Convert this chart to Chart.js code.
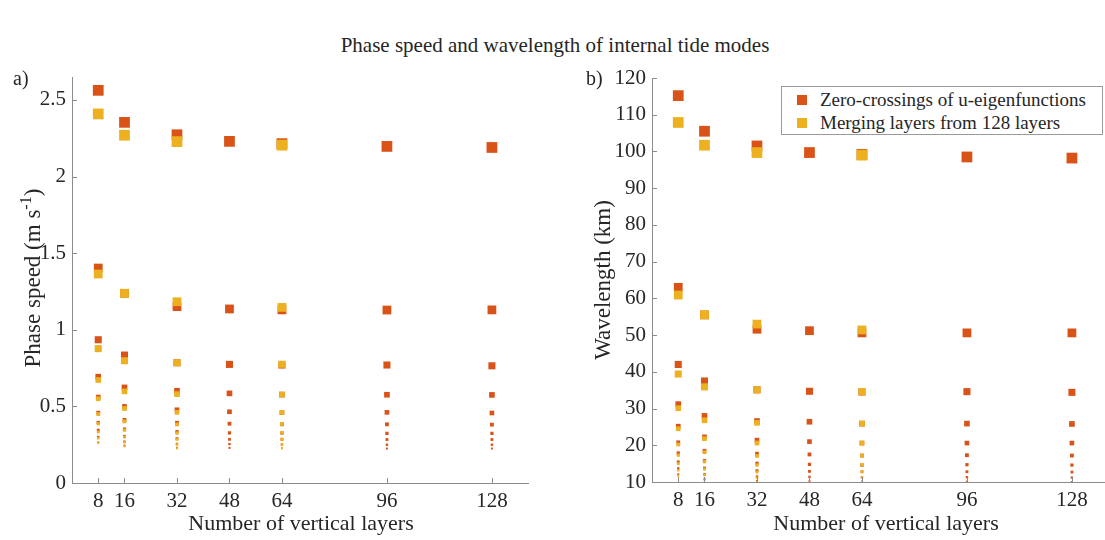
<!DOCTYPE html>
<html>
<head>
<meta charset="utf-8">
<title>Phase speed and wavelength of internal tide modes</title>
<script src="https://cdn.jsdelivr.net/npm/chart.js@4.4.1/dist/chart.umd.min.js"></script>
<style>
  html, body { margin: 0; padding: 0; background: #fff; }
  #page {
    position: relative; width: 1105px; height: 540px; overflow: hidden;
    font-family: "Times New Roman", "Liberation Serif", Times, "DejaVu Serif", serif; color: #262626;
  }
  .panel { position: absolute; top: 0; }
  .txt { position: absolute; white-space: nowrap; line-height: 1; }
  .center { transform: translate(-50%, -50%); }
  .vert { transform: translate(-50%, -50%) rotate(-90deg); }
  .vert sup { font-size: 0.7em; vertical-align: 0.55em; line-height: 0; }
  #legend {
    position: absolute; left: 781px; top: 86px; width: 322px; height: 49px;
    border: 1px solid #9a9a9a; background: #fff; box-sizing: border-box;
    font-size: 19px;
  }
  #legend .row { position: absolute; left: 0; height: 20px; line-height: 20px; }
  #legend .sw { position: absolute; left: 15px; top: 5px; width: 10px; height: 10px; }
  #legend .lab { position: absolute; left: 38px; top: 0; white-space: nowrap; }
</style>
</head>
<body>
<div id="page">
  <div class="txt center" style="left:555px; top:45px; font-size:21px;">Phase speed and wavelength of internal tide modes</div>

  <canvas id="speedChart" class="panel" style="left:0px;" width="560" height="540"></canvas>
  <canvas id="waveChart" class="panel" style="left:580px;" width="560" height="540"></canvas>

  <div class="txt" style="left:13px; top:68px; font-size:20px;">a)</div>
  <div class="txt" style="left:586px; top:68px; font-size:20px;">b)</div>

  <div class="txt vert" style="left:32px; top:278px; font-size:23px;">Phase speed (m s<sup>-1</sup>)</div>
  <div class="txt vert" style="left:602px; top:280px; font-size:23px;">Wavelength (km)</div>

  <div class="txt center" style="left:301px; top:523px; font-size:22px;">Number of vertical layers</div>
  <div class="txt center" style="left:886px; top:523px; font-size:22px;">Number of vertical layers</div>

  <div id="legend">
    <div class="row" style="top:3px;"><span class="sw" style="background:#D95319;"></span><span class="lab">Zero-crossings of u-eigenfunctions</span></div>
    <div class="row" style="top:26px;"><span class="sw" style="background:#EDB120;"></span><span class="lab">Merging layers from 128 layers</span></div>
  </div>
</div>

<script>
// layer counts on the x axis
const layers = [8, 16, 32, 48, 64, 96, 128];
const mergedLayers = [8, 16, 32, 64];

const xTicks = [8, 16, 32, 48, 64, 96, 128];
const speedTicks = [0, 0.5, 1, 1.5, 2, 2.5];
const waveTicks = [10, 20, 30, 40, 50, 60, 70, 80, 90, 100, 110, 120];

// phase speed (m/s), one row per layer count, modes 1..10
const speedZero = [
    [2.563, 1.403, 0.935, 0.694, 0.561, 0.459, 0.395, 0.345, 0.30, 0.265],
    [2.354, 1.238, 0.835, 0.624, 0.500, 0.412, 0.352, 0.305, 0.270, 0.245],
    [2.273, 1.151, 0.785, 0.602, 0.478, 0.393, 0.335, 0.290, 0.255, 0.230],
    [2.230, 1.136, 0.774, 0.585, 0.465, 0.387, 0.327, 0.285, 0.254, 0.229],
    [2.215, 1.130, 0.770, 0.577, 0.459, 0.383, 0.326, 0.285, 0.252, 0.227],
    [2.197, 1.129, 0.770, 0.576, 0.461, 0.383, 0.324, 0.284, 0.250, 0.225],
    [2.190, 1.130, 0.765, 0.575, 0.457, 0.381, 0.324, 0.284, 0.250, 0.225]
];
const speedMerged = [
    [2.409, 1.364, 0.877, 0.672, 0.550, 0.450, 0.387, 0.333, 0.292, 0.262],
    [2.270, 1.238, 0.798, 0.598, 0.486, 0.402, 0.345, 0.300, 0.266, 0.240],
    [2.228, 1.183, 0.785, 0.580, 0.461, 0.382, 0.326, 0.285, 0.251, 0.226],
    [2.205, 1.146, 0.775, 0.578, 0.460, 0.385, 0.328, 0.287, 0.253, 0.228]
];

// wavelength (km), same layout
const waveZero = [
    [115.2, 63.0, 42.0, 31.2, 25.2, 20.8, 17.9, 15.5, 13.7, 12.1],
    [105.5, 55.5, 37.5, 28.0, 22.3, 18.5, 15.8, 13.8, 12.1, 10.8],
    [101.5, 51.6, 35.1, 26.6, 21.4, 17.7, 15.1, 13.1, 11.5, 10.3],
    [99.7, 51.2, 34.7, 26.4, 21.0, 17.5, 14.8, 12.9, 11.4, 10.2],
    [99.2, 50.6, 34.5, 25.9, 20.6, 17.2, 14.6, 12.8, 11.3, 10.1],
    [98.5, 50.6, 34.6, 25.9, 20.6, 17.3, 14.7, 12.8, 11.3, 10.1],
    [98.2, 50.6, 34.4, 25.8, 20.6, 17.2, 14.6, 12.7, 11.2, 10.0]
];
const waveMerged = [
    [107.9, 60.9, 39.4, 30.1, 24.5, 20.2, 17.3, 15.0, 13.2, 11.7],
    [101.7, 55.5, 35.9, 26.8, 21.8, 18.1, 15.5, 13.5, 11.9, 10.6],
    [99.7, 53.0, 35.1, 26.1, 20.6, 17.1, 14.6, 12.7, 11.2, 10.0],
    [99.0, 51.4, 34.6, 25.9, 20.6, 17.2, 14.7, 12.8, 11.3, 10.1]
];

const RED = '#D95319';
const YELLOW = '#EDB120';
const AXIS = '#8c8c8c';
const TEXT = '#262626';
const SERIF = '"Times New Roman", "Liberation Serif", Times, "DejaVu Serif", serif';

// marker radius by mode number (rect side = radius * sqrt(2))
const modeRadius = [7.6, 6.2, 5.0, 4.0, 3.3, 2.7, 2.3, 2.0, 1.7, 1.4];

function toPoints(xs, rows) {
    const pts = [];
    xs.forEach((x, i) => {
        rows[i].forEach((y, m) => pts.push({ x, y, mode: m }));
    });
    return pts;
}

// matlab-style ticks pointing into the plot area
const inwardTicks = {
    id: 'inwardTicks',
    afterDatasetsDraw(chart) {
        const { ctx, chartArea, scales } = chart;
        const len = 5;
        ctx.save();
        ctx.strokeStyle = AXIS;
        ctx.lineWidth = 1;
        ctx.beginPath();
        scales.x.ticks.forEach(t => {
            const px = Math.round(scales.x.getPixelForValue(t.value)) + 0.5;
            ctx.moveTo(px, chartArea.bottom);
            ctx.lineTo(px, chartArea.bottom - len);
        });
        scales.y.ticks.forEach(t => {
            const py = Math.round(scales.y.getPixelForValue(t.value)) + 0.5;
            ctx.moveTo(chartArea.left, py);
            ctx.lineTo(chartArea.left + len, py);
        });
        ctx.stroke();
        ctx.restore();
    }
};

function makeChart(id, zeroRows, mergedRows, yMin, yMax, yTicks, topPad, xHeight) {
    const tickFont = { family: SERIF, size: 21 };
    return new Chart(document.getElementById(id), {
        type: 'scatter',
        data: {
            datasets: [
                {
                    label: 'Zero-crossings of u-eigenfunctions',
                    data: toPoints(layers, zeroRows),
                    backgroundColor: RED,
                    borderColor: RED,
                    borderWidth: 0,
                    pointStyle: 'rect',
                    pointRadius: ctx => modeRadius[ctx.raw.mode],
                    clip: 0,
                    order: 1
                },
                {
                    label: 'Merging layers from 128 layers',
                    data: toPoints(mergedLayers, mergedRows),
                    backgroundColor: YELLOW,
                    borderColor: YELLOW,
                    borderWidth: 0,
                    pointStyle: 'rect',
                    pointRadius: ctx => modeRadius[ctx.raw.mode],
                    clip: 0,
                    order: 0
                }
            ]
        },
        options: {
            responsive: false,
            animation: false,
            events: [],
            layout: { padding: { top: topPad, right: 32, left: 0, bottom: 0 } },
            plugins: { legend: { display: false }, tooltip: { enabled: false } },
            scales: {
                x: {
                    type: 'linear',
                    min: 0,
                    max: 139,
                    afterBuildTicks: s => { s.ticks = xTicks.map(v => ({ value: v })); },
                    afterFit: s => { s.height = xHeight; },
                    grid: { drawOnChartArea: false, drawTicks: false },
                    border: { color: AXIS, width: 1 },
                    ticks: { padding: 6, font: tickFont, color: TEXT, maxRotation: 0, autoSkip: false,
                             callback: v => String(v) }
                },
                y: {
                    type: 'linear',
                    min: yMin,
                    max: yMax,
                    afterBuildTicks: s => { s.ticks = yTicks.map(v => ({ value: v })); },
                    afterFit: s => { s.width = 72; },
                    grid: { drawOnChartArea: false, drawTicks: false },
                    border: { color: AXIS, width: 1 },
                    ticks: { padding: 6, font: tickFont, color: TEXT, autoSkip: false,
                             callback: v => String(v) }
                }
            }
        },
        plugins: [inwardTicks]
    });
}

makeChart('speedChart', speedZero, speedMerged, 0, 2.65, speedTicks, 77, 57);
makeChart('waveChart', waveZero, waveMerged, 10, 120, waveTicks, 78, 58);
</script>
</body>
</html>
